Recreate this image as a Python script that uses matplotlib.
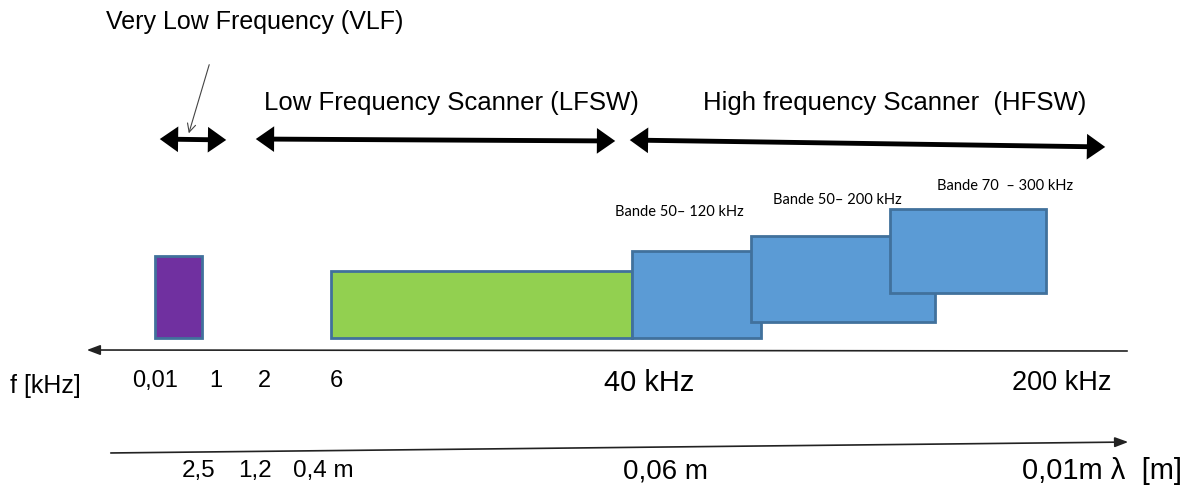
import matplotlib.pyplot as plt
from matplotlib.patches import Rectangle, FancyArrowPatch

# diagram laid out on a 1195 x 495 grid (y grows downward)
FONT = ['Liberation Sans', 'DejaVu Sans']
SMALL = ['Lato', 'DejaVu Sans']

# frequency bands (left, right, top, bottom)
band_names = ['VLF', 'LFSW', 'Bande 50– 120 kHz', 'Bande 50– 200 kHz', 'Bande 70  – 300 kHz']
band_left = [155, 331, 632, 751, 890]
band_right = [202, 632, 761, 935, 1046]
band_top = [256, 271, 251, 236, 209]
band_bottom = [338, 338, 338, 322, 293]
band_colors = ['#7030A0', '#92D050', '#5B9BD5', '#5B9BD5', '#5B9BD5']
band_label_x = [None, None, 615, 773, 937]
band_label_y = [None, None, 212, 200, 186]

# range arrows
range_labels = ['Low Frequency Scanner (LFSW)', 'High frequency Scanner  (HFSW)']
range_label_x = [264, 703]
arrow_x0 = [157, 253, 627]
arrow_x1 = [229, 618, 1108]
arrow_y0 = [139, 139, 140]
arrow_y1 = [140, 141, 147]

# axis labels
freq_ticks = ['0,01', '1', '2', '6']
freq_tick_x = [132, 209, 258, 330]
freq_big = ['40 kHz', '200 kHz']
freq_big_x = [604, 1012]
freq_big_size = [21, 19.5]
wave_ticks = ['2,5', '1,2', '0,4 m']
wave_tick_x = [182, 238, 293]
wave_big = ['0,06 m', '0,01m λ  [m]']
wave_big_x = [623, 1022]
wave_big_size = [20, 21]

fig = plt.figure(figsize=(11.95, 4.95), dpi=100)
ax = fig.add_axes([0, 0, 1, 1])
ax.set_xlim(0, 1195)
ax.set_ylim(495, 0)
ax.axis('off')

for i in range(len(band_names)):
    ax.add_patch(Rectangle((band_left[i], band_top[i]), band_right[i] - band_left[i],
                           band_bottom[i] - band_top[i], facecolor=band_colors[i],
                           edgecolor='#41719C', lw=2, zorder=2 + i))
    if band_label_x[i] is not None:
        ax.text(band_label_x[i], band_label_y[i], band_names[i], fontsize=10.5,
                family=SMALL, va='center', ha='left', zorder=10)

for i in range(len(arrow_x0)):
    ax.add_patch(FancyArrowPatch((arrow_x0[i], arrow_y0[i]), (arrow_x1[i], arrow_y1[i]),
                                 arrowstyle='<|-|>,head_length=0.6,head_width=0.42',
                                 mutation_scale=14, lw=3.5, color='black',
                                 joinstyle='miter', capstyle='butt'))

ax.text(106, 22, 'Very Low Frequency (VLF)', fontsize=18, family=FONT, va='center')
for lab, x in zip(range_labels, range_label_x):
    ax.text(x, 103, lab, fontsize=18.5, family=FONT, va='center')

# thin pointer to the VLF arrow
ax.annotate('', xy=(188, 136), xytext=(210, 62),
            arrowprops=dict(arrowstyle='->,head_length=0.6,head_width=0.3', lw=0.8, color='#444444'))

# frequency axis (pointing left)
ax.annotate('', xy=(84, 350), xytext=(1130, 351),
            arrowprops=dict(arrowstyle='-|>,head_length=0.8,head_width=0.3', lw=1.2, color='#222222'))
ax.text(10, 386, 'f [kHz]', fontsize=18, family=FONT, va='center')
for lab, x in zip(freq_ticks, freq_tick_x):
    ax.text(x, 381, lab, fontsize=17, family=FONT, va='center')
for lab, x, s in zip(freq_big, freq_big_x, freq_big_size):
    ax.text(x, 383, lab, fontsize=s, family=FONT, va='center')

# wavelength axis (pointing right)
ax.annotate('', xy=(1131, 442), xytext=(108, 453),
            arrowprops=dict(arrowstyle='-|>,head_length=0.8,head_width=0.3', lw=1.2, color='#222222'))
for lab, x in zip(wave_ticks, wave_tick_x):
    ax.text(x, 471, lab, fontsize=17.5, family=FONT, va='center')
for lab, x, s in zip(wave_big, wave_big_x, wave_big_size):
    ax.text(x, 471, lab, fontsize=s, family=FONT, va='center')

fig.savefig('out.png', dpi=100)
